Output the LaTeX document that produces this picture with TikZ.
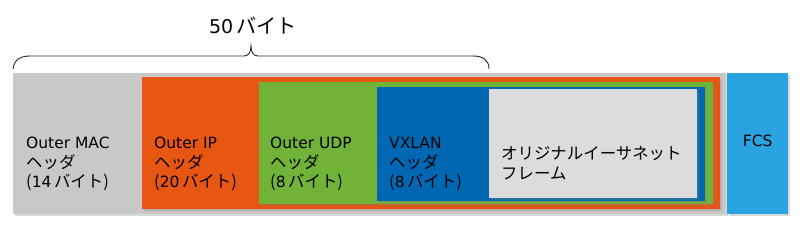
\documentclass[tikz,border=0pt]{standalone}
\usepackage{fontspec}
\setmainfont{DejaVu Sans}
\newfontfamily\jp[Scale=1.06]{Noto Sans CJK JP}
\usepackage{tikz}
\usetikzlibrary{positioning,shadows}
\definecolor{macgray}{RGB}{200,200,200}
\definecolor{iporange}{RGB}{232,86,20}
\definecolor{udpgreen}{RGB}{113,178,56}
\definecolor{vxblue}{RGB}{0,104,178}
\definecolor{framegray}{RGB}{220,220,220}
\definecolor{fcsblue}{RGB}{42,164,224}
\newcommand{\bytes}[1]{{\jp (}#1\,{\jp バイト)}}

\begin{document}
\begin{tikzpicture}[x=1pt, y=-1pt,
    layer/.style={rectangle, anchor=north west, inner sep=0pt, draw=none,
      drop shadow={shadow xshift=1.5pt, shadow yshift=-1.5pt, opacity=0.3}},
    lbl/.style={anchor=west, align=left, inner sep=0pt,
      font=\fontsize{15.5}{19.5}\selectfont}]
  \useasboundingbox (0,0) rectangle (800,240);
  % nested header layers
  \node[layer, fill=macgray, minimum width=713pt, minimum height=141pt] (mac) at (13,73) {};
  \node[layer, fill=iporange, minimum width=578pt, minimum height=132pt] (ip) at (142,77) {};
  \node[layer, fill=udpgreen, minimum width=454pt, minimum height=122pt] (udp) at (259,82) {};
  \node[layer, fill=vxblue, minimum width=328pt, minimum height=114pt] (vxlan) at (377,87) {};
  \node[layer, fill=framegray, minimum width=208pt, minimum height=109pt] (frame) at (489,89) {};
  \node[layer, fill=fcsblue, minimum width=61pt, minimum height=141pt] (fcs) at (727,73) {};
  \node[lbl, anchor=center] (fcsL) at ([yshift=3pt]fcs.center) {FCS};
  % labels
  \node[lbl] (macL) at (26,164) {Outer MAC\\{\jp ヘッダ}\\\bytes{14}};
  \node[lbl] (ipL) at (154,164) {Outer IP\\{\jp ヘッダ}\\\bytes{20}};
  \node[lbl] (udpL) at (270,164) {Outer UDP\\{\jp ヘッダ}\\\bytes{8}};
  \node[lbl] (vxlanL) at (389,164) {VXLAN\\{\jp ヘッダ}\\\bytes{8}};
  \node[lbl] (frameL) at (501,163) {{\jp オリジナルイーサネット}\\{\jp フレーム}};
  % 50 byte brace
  \coordinate (bl) at (13,69);
  \coordinate (tip) at (251,46);
  \coordinate (br) at (489,69);
  \draw[black!85, line width=0.9pt]
    (bl) .. controls (14,60) and (20,56) .. (30,56) -- (244,56)
    .. controls (248,56) and (251,53) .. (tip)
    .. controls (251,53) and (254,56) .. (258,56) -- (473,56)
    .. controls (483,56) and (489,60) .. (br);
  \node[lbl, anchor=center, font=\fontsize{19}{22}\selectfont] (total) at (253,26) {50\,{\jp バイト}};
\end{tikzpicture}
\end{document}
